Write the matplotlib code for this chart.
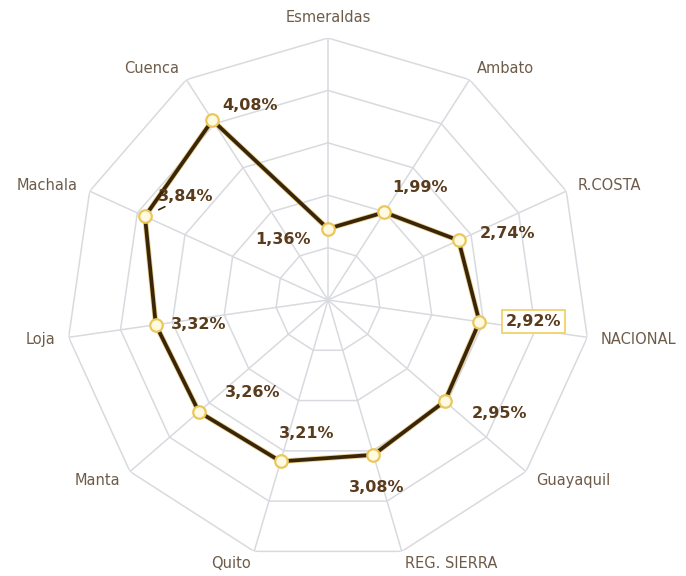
import numpy as np
import matplotlib
matplotlib.use("Agg")
import matplotlib.pyplot as plt

# Radar of rates by city / region
categories = ["Esmeraldas", "Ambato", "R.COSTA", "NACIONAL", "Guayaquil",
              "REG. SIERRA", "Quito", "Manta", "Loja", "Machala", "Cuenca"]
values = [1.36, 1.99, 2.74, 2.92, 2.95, 3.08, 3.21, 3.26, 3.32, 3.84, 4.08]
labels = ["1,36%", "1,99%", "2,74%", "2,92%", "2,95%", "3,08%",
          "3,21%", "3,26%", "3,32%", "3,84%", "4,08%"]
rings = [1, 2, 3, 4, 5]
highlight = "NACIONAL"

# pixel offsets for the value labels (x right, y up)
label_offsets = [(-45, -11), (36, 25), (49, 7), (54, 0), (55, -12), (3, -33),
                 (26, 28), (54, 19), (43, 0), (41, 20), (38, 15)]

grid_col = "#d8dadf"
cat_col = "#6e5c4a"
val_col = "#5a3c1c"

n = len(categories)
theta = 2 * np.pi * np.arange(n) / n
theta_c = np.append(theta, theta[0])
vals_c = np.append(values, values[0])

fig = plt.figure(figsize=(6.86, 5.76), dpi=100)
ax = fig.add_axes([0.0962, 0.0243, 0.7638, 0.9097], projection="polar")
ax.set_theta_zero_location("N")
ax.set_theta_direction(-1)
ax.set_ylim(0, rings[-1])
ax.grid(False)
ax.set_xticks([])
ax.set_yticks([])
ax.spines["polar"].set_visible(False)
ax.patch.set_alpha(0)

# polygon grid
for r in rings:
    ax.plot(theta_c, [r] * (n + 1), color=grid_col, lw=1.1, zorder=1)
for t in theta:
    ax.plot([t, t], [0, rings[-1]], color=grid_col, lw=1.1, zorder=1)

# series line with a thin golden halo
ax.plot(theta_c, vals_c, color="#d9b44a", lw=3.9, alpha=0.6, zorder=3,
        solid_joinstyle="round")
ax.plot(theta_c, vals_c, color="#3a2508", lw=2.7, zorder=4,
        solid_joinstyle="round")
ax.plot(theta, values, "o", ms=9, mfc="#fffbe2", mec="#ebc75a", mew=1.6,
        zorder=5, ls="none")

# category labels
for t, name in zip(theta, categories):
    s, c = np.cos(t), np.sin(t)  # s: vertical component, c: horizontal
    if c > 0.05:
        ha = "left"
    elif c < -0.05:
        ha = "right"
    else:
        ha = "center"
    va = "bottom" if s > 0.9 else "center"
    ax.annotate(name, xy=(t, rings[-1]), xytext=(13 * c, 13 * s),
                textcoords="offset pixels", ha=ha, va=va,
                fontsize=10.5, color=cat_col)

# value labels
for t, v, lab, cat, (dx, dy) in zip(theta, values, labels, categories,
                                     label_offsets):
    kw = {}
    if cat == highlight:
        kw["bbox"] = dict(boxstyle="square,pad=0.25", fc="white",
                          ec="#f2d26a", lw=1.3)
    if cat == "Machala":
        kw["arrowprops"] = dict(arrowstyle="-", color="#3a2508", lw=1.2,
                                shrinkA=0, shrinkB=11)
    ax.annotate(lab, xy=(t, v), xytext=(dx, dy), textcoords="offset pixels",
                ha="center", va="center", fontsize=11.5, fontweight="bold",
                color=val_col, zorder=6, **kw)

fig.savefig("out.png", dpi=100, facecolor="white")
